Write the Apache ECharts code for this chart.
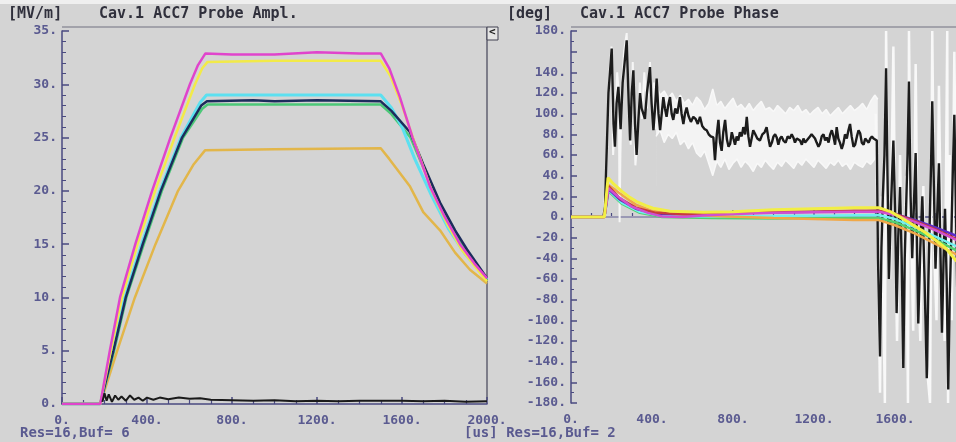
<!DOCTYPE html>
<html>
<head>
<meta charset="utf-8">
<script src="https://cdn.jsdelivr.net/npm/echarts@6/dist/echarts.min.js"></script>
<style>
  html, body { margin: 0; padding: 0; background: #d4d4d4; }
  #main { width: 956px; height: 442px; }
</style>
</head>
<body>
<div id="main"></div>
<script>
// left panel: probe amplitude [MV/m] vs time [us]
var ampMagenta = [[0,0],[180,0],[225,5],[273,10],[345,15],[424,20],[510,25],[602,30],[640,31.8],[675,32.9],[800,32.8],[1000,32.8],[1200,33.0],[1400,32.9],[1500,32.9],[1540,31.5],[1590,28.8],[1650,25.0],[1732,20.4],[1800,17.6],[1873,15.0],[1940,13.2],[2000,11.8]];
var ampYellow = [[0,0],[180,0],[230,5],[282,10],[355,15],[438,20],[530,25],[626,30],[660,31.5],[685,32.1],[1000,32.2],[1500,32.2],[1545,30.8],[1600,28],[1660,24.5],[1740,20],[1810,17],[1880,14.5],[2000,11.5]];
var ampCyan = [[0,0],[180,0],[240,5],[296,10],[375,15],[461,20],[560,25],[650,28.3],[680,29],[1000,29],[1500,29],[1550,27.8],[1600,26],[1660,23],[1740,19.5],[1820,16.4],[1900,14],[2000,11.7]];
var ampNavy = [[0,0],[180,0],[242,5],[300,10],[380,15],[465,20],[565,25],[655,28],[682,28.4],[900,28.5],[1000,28.4],[1200,28.5],[1500,28.4],[1550,27.5],[1638,25.5],[1700,22.5],[1779,18.9],[1850,16.3],[1906,14.5],[2000,11.8]];
var ampGreen = [[0,0],[180,0],[245,5],[303,10],[385,15],[470,20],[570,25],[660,27.7],[685,28.1],[1500,28.1],[1550,27.2],[1640,25],[1700,22.2],[1780,18.7],[1850,16.1],[1910,14.2],[2000,11.6]];
var ampOrange = [[0,0],[180,0],[260,5],[343,10],[440,15],[546,20],[620,22.5],[673,23.8],[1000,23.9],[1500,24],[1540,23],[1638,20.4],[1700,18],[1779,16.3],[1850,14.2],[1920,12.6],[2000,11.3]];
var ampBlack = [[190,0.2],[200,1.0],[210,0.3],[220,0.9],[235,0.2],[250,0.8],[265,0.4],[280,0.7],[300,0.3],[320,0.8],[340,0.4],[360,0.6],[380,0.3],[400,0.6],[430,0.4],[460,0.6],[500,0.45],[550,0.6],[600,0.5],[650,0.55],[700,0.4],[800,0.35],[900,0.3],[1000,0.35],[1100,0.25],[1200,0.3],[1300,0.25],[1400,0.3],[1500,0.3],[1600,0.3],[1700,0.25],[1800,0.3],[1900,0.2],[2000,0.25]];

// right panel: probe phase [deg] vs time [us]
var phBlack = [[0,0],[160,0],[168,10],[185,120],[201,163],[210,90],[217,68],[225,110],[234,126],[245,85],[255,130],[265,150],[275,171],[285,110],[292,74],[300,120],[308,142],[316,90],[324,60],[333,95],[341,120],[349,105],[357,100],[365,95],[375,120],[390,145],[398,110],[407,84],[415,105],[423,134],[432,100],[440,84],[448,100],[456,116],[464,105],[472,97],[480,108],[489,116],[497,100],[505,94],[515,105],[525,100],[538,116],[546,100],[555,90],[563,100],[571,106],[580,98],[592,92],[604,97],[615,95],[626,90],[637,97],[648,88],[660,85],[670,84],[680,80],[690,78],[703,77],[711,55],[720,80],[728,94],[736,72],[744,64],[752,82],[761,94],[770,75],[778,68],[786,71],[794,82],[802,81],[810,70],[818,78],[826,74],[834,82],[843,78],[851,87],[860,80],[868,97],[876,78],[884,68],[892,76],[900,84],[910,80],[920,76],[933,74],[945,80],[956,82],[966,87],[975,76],[983,68],[992,72],[1000,78],[1008,80],[1016,77],[1024,70],[1032,76],[1040,78],[1049,74],[1060,72],[1070,78],[1080,76],[1090,80],[1098,77],[1106,72],[1115,76],[1124,75],[1131,74],[1140,70],[1148,76],[1156,72],[1164,71],[1172,76],[1180,78],[1188,80],[1197,81],[1205,76],[1213,72],[1222,68],[1230,71],[1238,78],[1247,80],[1255,74],[1263,77],[1272,72],[1280,80],[1288,84],[1296,78],[1304,70],[1312,87],[1320,76],[1328,72],[1337,66],[1345,71],[1353,80],[1362,76],[1370,84],[1378,90],[1386,78],[1395,68],[1403,70],[1412,78],[1420,84],[1428,81],[1436,72],[1445,70],[1453,76],[1461,74],[1470,72],[1478,76],[1486,78],[1494,76],[1502,77],[1510,74],[1516,-40],[1526,-135],[1533,-30],[1540,20],[1548,60],[1556,144],[1563,40],[1570,-60],[1580,10],[1592,74],[1600,10],[1608,-93],[1616,-20],[1625,29],[1633,-40],[1641,-146],[1648,-40],[1655,10],[1662,60],[1669,131],[1677,20],[1685,-40],[1693,10],[1702,62],[1708,-20],[1715,-103],[1725,-30],[1735,20],[1746,-60],[1757,-156],[1765,-60],[1772,0],[1778,50],[1784,112],[1792,30],[1800,-50],[1808,0],[1817,52],[1824,-30],[1832,-112],[1840,-40],[1847,8],[1855,-60],[1863,-167],[1870,-80],[1878,-20],[1885,40],[1893,99],[1900,20],[1908,-80],[1916,-160],[1925,-100],[1935,-20],[1945,60],[1955,-30],[1965,-120],[1975,-40],[1985,40],[1992,-20],[2000,-90]];
var phWhiteEarly = [[150,0],[160,0],[175,40],[190,140],[200,165],[208,60],[217,90],[228,140],[236,120],[240,-5],[244,60],[250,120],[262,160],[275,178],[285,100],[295,70],[305,150],[318,50],[328,75],[340,130],[350,95],[362,140],[375,105],[390,150],[400,100],[410,130],[420,85]];
var phWhiteLate = [[1505,100],[1515,-20],[1526,-170],[1535,20],[1550,-180],[1556,180],[1565,20],[1575,-60],[1592,165],[1600,0],[1610,-120],[1625,60],[1640,-100],[1655,40],[1664,-180],[1669,180],[1680,-20],[1690,-110],[1702,148],[1712,-40],[1725,-120],[1740,30],[1755,-140],[1773,-180],[1784,180],[1795,-40],[1805,-100],[1817,127],[1830,-60],[1845,-120],[1858,180],[1862,-180],[1870,60],[1880,-100],[1893,160],[1905,-40],[1915,-150],[1930,40],[1945,175],[1955,-60],[1968,-170],[1980,100],[1990,-120],[2000,160]];
var bandT = [420,440,460,480,500,520,540,560,580,600,620,640,660,680,700,720,740,760,780,800,820,840,860,880,900,920,940,960,980,1000,1020,1040,1060,1080,1100,1120,1140,1160,1180,1200,1220,1240,1260,1280,1300,1320,1340,1360,1380,1400,1420,1440,1460,1480,1500,1515];
var bandUpper = [128,118,122,115,120,112,118,110,114,108,116,112,104,110,124,108,112,105,110,115,106,109,104,110,103,108,112,104,106,102,108,104,100,106,103,108,101,104,99,103,106,100,104,98,102,106,100,104,108,103,106,110,104,112,118,114];
var bandLower = [78,84,72,80,76,82,70,74,66,72,62,58,64,52,40,54,48,56,46,52,56,48,54,50,44,52,48,55,50,46,53,49,55,51,47,54,50,56,52,48,55,51,47,53,50,55,49,52,46,53,50,48,54,51,56,62];
var phYellow = [[0,0],[165,0],[183,38],[210,32],[250,25],[290,19],[324,15],[370,11],[405,8.5],[489,5.5],[653,4.5],[800,5],[1000,7],[1200,8],[1400,9],[1520,9],[1580,5],[1650,-3],[1750,-15],[1850,-30],[1900,-42],[2000,-55]];
var phOrange = [[0,0],[165,0],[185,31],[220,26],[260,20],[320,12],[400,6],[500,3],[700,1],[1000,-1],[1200,-2],[1400,-3],[1520,-3],[1600,-8],[1700,-16],[1800,-26],[1900,-36],[2000,-46]];
var phMagenta = [[0,0],[165,0],[185,28],[230,20],[300,10],[380,4],[450,0.5],[550,0],[650,1.5],[800,3],[1000,4],[1200,4.5],[1400,5],[1520,5],[1600,2],[1700,-5],[1800,-13],[1900,-22],[2000,-30]];
var phRed = [[0,0],[165,0],[185,30],[240,18],[320,9],[420,4],[600,2.5],[800,4],[1000,5],[1200,5],[1400,6],[1520,6],[1600,3],[1700,-4],[1800,-12],[1900,-21],[2000,-30]];
var phPurple = [[0,0],[165,0],[185,27],[240,17],[320,8],[420,3],[600,3],[900,4],[1200,5],[1400,5],[1520,6],[1600,3],[1700,-3],[1800,-10],[1900,-18],[2000,-26]];
var phCyan = [[0,0],[165,0],[185,26],[250,14],[340,5],[450,1],[700,0.5],[1000,1],[1300,1.5],[1520,2],[1600,-2],[1700,-10],[1800,-19],[1900,-28],[2000,-37]];
var phGreen = [[0,0],[165,0],[185,25],[250,13],[340,4],[450,0],[700,-1],[1000,-1.5],[1300,-1],[1520,-1],[1600,-5],[1700,-13],[1800,-22],[1900,-32],[2000,-42]];
var phBase = [[0,0],[1520,0]];

var axisColor = '#4a4a80';
var labelColor = '#5a5a90';
var bgColor = '#d4d4d4';
var monoFont = '"DejaVu Sans Mono", monospace';

function dotLabel(v) { return v + '.'; }

function xAxisCfg(idx) {
    return {
        type: 'value', gridIndex: idx, min: 0, max: 2000, interval: 400,
        axisLine: { lineStyle: { color: axisColor, width: 1.5 } },
        axisTick: { inside: true, length: 7, lineStyle: { color: axisColor, width: 1.5 } },
        minorTick: { show: true, splitNumber: 4, length: 4, lineStyle: { color: axisColor, width: 1.2 } },
        splitLine: { show: false },
        axisLabel: { formatter: dotLabel, color: labelColor, fontFamily: monoFont, fontSize: 13, fontWeight: 'bold', margin: 10, showMaxLabel: true }
    };
}

function line(name, data, color, width, xi) {
    return {
        name: name, type: 'line', xAxisIndex: xi, yAxisIndex: xi, data: data,
        showSymbol: false, animation: false, silent: true,
        lineStyle: { color: color, width: width }
    };
}

// white spread band: white area down to 30, then background-grey area from the lower edge down to 30
var bandUpData = bandT.map(function (t, i) { return [t, bandUpper[i]]; });
var bandLowData = bandT.map(function (t, i) { return [t, bandLower[i]]; });

var chart = echarts.init(document.getElementById('main'));
chart.setOption({
    backgroundColor: bgColor,
    animation: false,
    grid: [
        { left: 62, top: 31, right: 469, bottom: 38, outerBoundsMode: 'none', containLabel: false },
        { left: 571, top: 31, width: 405, bottom: 39, outerBoundsMode: 'none', containLabel: false }
    ],
    xAxis: [xAxisCfg(0), xAxisCfg(1)],
    yAxis: [
        {
            type: 'value', gridIndex: 0, min: 0, max: 35, interval: 5,
            axisLine: { show: true, lineStyle: { color: axisColor, width: 1.5 } },
            axisTick: { show: true, inside: true, length: 7, lineStyle: { color: axisColor, width: 1.5 } },
            minorTick: { show: true, splitNumber: 5, length: 4, lineStyle: { color: axisColor } },
            splitLine: { show: false },
            axisLabel: { formatter: dotLabel, color: labelColor, fontFamily: monoFont, fontSize: 13, fontWeight: 'bold', margin: 5 }
        },
        {
            type: 'value', gridIndex: 1, min: -180, max: 180, interval: 20,
            axisLine: { show: true, lineStyle: { color: axisColor, width: 1.5 } },
            axisTick: { show: true, inside: true, length: 6, lineStyle: { color: axisColor, width: 1.5 } },
            minorTick: { show: true, splitNumber: 2, length: 3, lineStyle: { color: axisColor } },
            splitLine: { show: false },
            axisLabel: {
                formatter: function (v) { return v === 160 ? '' : v + '.'; },
                color: labelColor, fontFamily: monoFont, fontSize: 13, fontWeight: 'bold', margin: 5
            }
        }
    ],
    series: [
        line('amp orange', ampOrange, '#e2b64a', 2.5, 0),
        line('amp green', ampGreen, '#4cc878', 2.5, 0),
        line('amp cyan', ampCyan, '#5ce0f0', 3, 0),
        line('amp navy', ampNavy, '#1c2c5c', 2.5, 0),
        line('amp yellow', ampYellow, '#f2ea48', 2.5, 0),
        line('amp magenta', ampMagenta, '#e044cc', 2.5, 0),
        line('amp black', ampBlack, '#1a1a1a', 2, 0),

        {
            name: 'band up', type: 'line', xAxisIndex: 1, yAxisIndex: 1,
            data: bandUpData, showSymbol: false, silent: true,
            lineStyle: { color: '#f8f8f8', width: 1.5 },
            areaStyle: { color: '#f3f3f3', opacity: 1, origin: 30 }
        },
        {
            name: 'band low', type: 'line', xAxisIndex: 1, yAxisIndex: 1,
            data: bandLowData, showSymbol: false, silent: true,
            lineStyle: { color: '#f8f8f8', width: 1.5 },
            areaStyle: { color: bgColor, opacity: 1, origin: 30 }
        },
        line('ph base', phBase, '#9a98b4', 2, 1),
        line('ph white early', phWhiteEarly, '#f6f6f6', 2, 1),
        line('ph white late', phWhiteLate, '#f8f8f8', 2.5, 1),
        line('ph black', phBlack, '#1c1c1c', 2.4, 1),
        line('ph green', phGreen, '#52d070', 2.5, 1),
        line('ph cyan', phCyan, '#70f0f0', 2.5, 1),
        line('ph orange', phOrange, '#f0a848', 2.5, 1),
        line('ph purple', phPurple, '#5a2cc8', 2.5, 1),
        line('ph red', phRed, '#c83c3c', 2.5, 1),
        line('ph magenta', phMagenta, '#d050d0', 2.5, 1),
        line('ph yellow', phYellow, '#f2ee44', 3, 1)
    ],
    graphic: [
        { type: 'rect', shape: { x: 0, y: 0, width: 956, height: 4 }, style: { fill: '#efefef' }, silent: true },
        { type: 'line', shape: { x1: 62, y1: 27, x2: 487, y2: 27 }, style: { stroke: '#707080', lineWidth: 1 }, silent: true },
        { type: 'line', shape: { x1: 571, y1: 27, x2: 956, y2: 27 }, style: { stroke: '#707080', lineWidth: 1 }, silent: true },
        { type: 'line', shape: { x1: 487, y1: 27, x2: 487, y2: 400 }, style: { stroke: '#606070', lineWidth: 1.5 }, silent: true },
        { type: 'rect', shape: { x: 487, y: 27, width: 11, height: 13 }, style: { fill: '#e4e4e4', stroke: '#404050', lineWidth: 1 }, silent: true },
        { type: 'text', left: 489, top: 27, style: { text: '<', fill: '#202020', font: 'bold 11px ' + monoFont }, silent: true },
        { type: 'text', left: 8, top: 7, style: { text: '[MV/m]', fill: '#30303c', font: 'bold 15px ' + monoFont }, silent: true },
        { type: 'text', left: 99, top: 7, style: { text: 'Cav.1 ACC7 Probe Ampl.', fill: '#30303c', font: 'bold 15px ' + monoFont }, silent: true },
        { type: 'text', left: 507, top: 7, style: { text: '[deg]', fill: '#30303c', font: 'bold 15px ' + monoFont }, silent: true },
        { type: 'text', left: 580, top: 7, style: { text: 'Cav.1 ACC7 Probe Phase', fill: '#30303c', font: 'bold 15px ' + monoFont }, silent: true },
        { type: 'text', left: 20, top: 426, style: { text: 'Res=16,Buf= 6', fill: labelColor, font: 'bold 14px ' + monoFont }, silent: true },
        { type: 'text', left: 464, top: 426, style: { text: '[us] Res=16,Buf= 2', fill: labelColor, font: 'bold 14px ' + monoFont }, silent: true }
    ]
});
</script>
</body>
</html>
